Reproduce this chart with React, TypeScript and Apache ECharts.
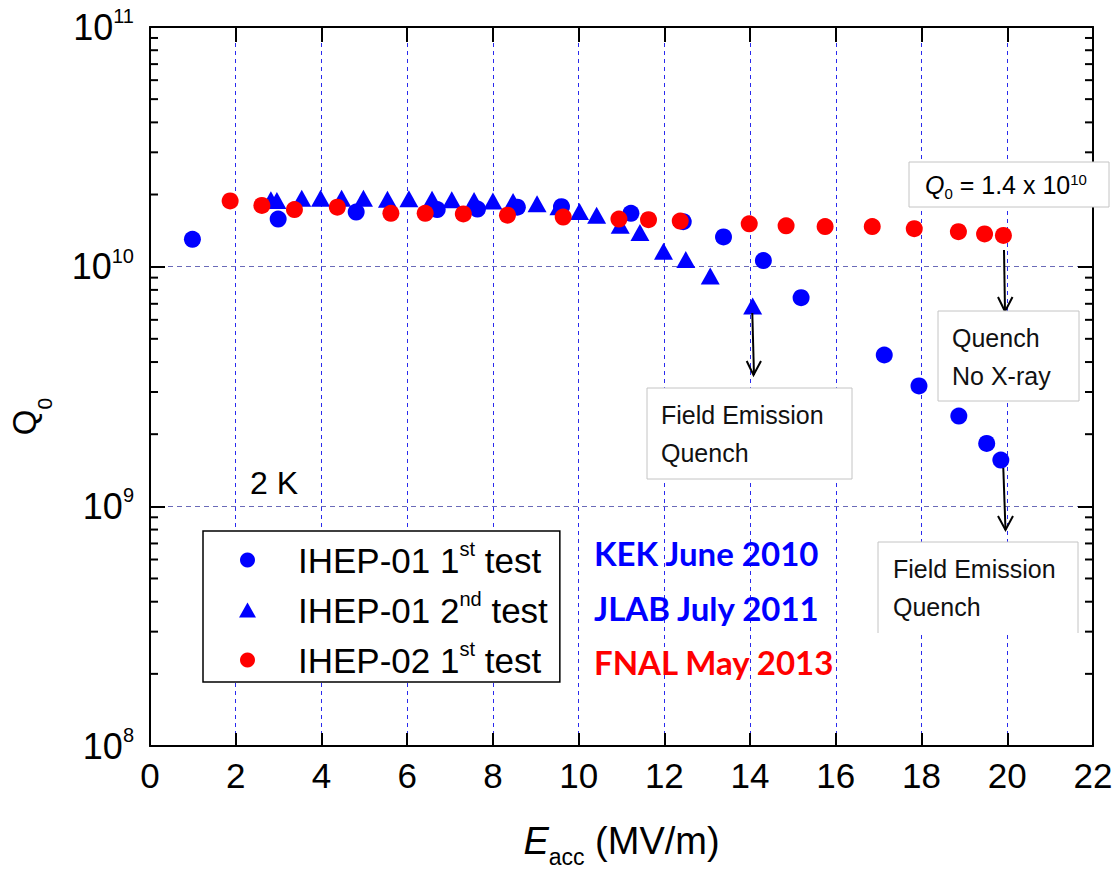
import React, { useEffect, useRef } from 'react';
import * as echarts from 'echarts';

const FONT = '"Liberation Sans", Arial, sans-serif';
const LAB_FONT = 'Lato, "Open Sans", sans-serif';

// IHEP-01 1st test (KEK June 2010)
const test1E = [0.99, 2.99, 4.81, 6.70, 7.64, 8.57, 9.60, 11.22, 12.44, 13.38, 14.31, 15.19, 17.13, 17.94, 18.87, 19.52, 19.85];
const test1Q = [1.30e10, 1.58e10, 1.69e10, 1.73e10, 1.74e10, 1.77e10, 1.78e10, 1.67e10, 1.54e10, 1.33e10, 1.06e10, 7.42e9, 4.28e9, 3.18e9, 2.38e9, 1.83e9, 1.56e9];

// IHEP-01 2nd test (JLAB July 2011)
const test2E = [2.82, 2.96, 3.54, 3.98, 4.47, 4.98, 5.54, 6.04, 6.58, 7.04, 7.56, 8.00, 8.47, 9.03, 9.54, 10.02, 10.42, 10.97, 11.43, 11.98, 12.50, 13.07, 14.06];
const test2Q = [1.90e10, 1.89e10, 1.93e10, 1.93e10, 1.93e10, 1.93e10, 1.91e10, 1.92e10, 1.91e10, 1.90e10, 1.89e10, 1.88e10, 1.87e10, 1.83e10, 1.78e10, 1.70e10, 1.64e10, 1.49e10, 1.39e10, 1.16e10, 1.07e10, 9.14e9, 6.86e9];

// IHEP-02 1st test (FNAL May 2013)
const test3E = [1.87, 2.61, 3.37, 4.37, 5.62, 6.42, 7.31, 8.34, 9.64, 10.94, 11.63, 12.37, 13.98, 14.84, 15.75, 16.85, 17.83, 18.86, 19.47, 19.91];
const test3Q = [1.88e10, 1.80e10, 1.73e10, 1.77e10, 1.67e10, 1.67e10, 1.66e10, 1.64e10, 1.61e10, 1.58e10, 1.57e10, 1.55e10, 1.51e10, 1.48e10, 1.47e10, 1.47e10, 1.44e10, 1.40e10, 1.37e10, 1.35e10];

const seriesNames = ['IHEP-01 1st test', 'IHEP-01 2nd test', 'IHEP-02 1st test'];
const legendRich: Record<string, string> = {
  'IHEP-01 1st test': '{g| }{m|IHEP-01 1}{s|st}{m| test}',
  'IHEP-01 2nd test': '{g| }{m|IHEP-01 2}{s|nd}{m| test}',
  'IHEP-02 1st test': '{g| }{m|IHEP-02 1}{s|st}{m| test}',
};

const X_MIN = 0;
const X_MAX = 22;
const X_INTERVAL = 2;
const Y_MIN = 1e8;
const Y_MAX = 1e11;

const minorTickValues: number[] = [];
for (let d = 8; d <= 10; d++) {
  for (let m = 2; m <= 9; m++) minorTickValues.push(m * Math.pow(10, d));
}

const zip = (xs: number[], ys: number[]) => xs.map((x, i) => [x, ys[i]]);

export default function App() {
  const ref = useRef<HTMLDivElement>(null);
  useEffect(() => {
    if (!ref.current) return;
    const chart = echarts.init(ref.current, null, { renderer: 'svg' });
    const axisLine = { show: true, onZero: false, lineStyle: { color: '#000', width: 2 } };
    const majorTick = (len: number) => ({ show: true, inside: true, length: len, lineStyle: { color: '#000', width: 2 } });

    const option: any = {
      animation: false,
      backgroundColor: '#fff',
      textStyle: { fontFamily: FONT },
      grid: { left: 150, top: 27, right: 22, bottom: 124, containLabel: false, outerBoundsMode: 'none' },
      legend: {
        orient: 'vertical',
        left: 203,
        top: 531,
        data: [
          { name: seriesNames[0], icon: 'circle' },
          { name: seriesNames[1], icon: 'triangle' },
          { name: seriesNames[2], icon: 'circle' },
        ],
        itemWidth: 17,
        itemHeight: 15,
        itemGap: 8,
        padding: [8, 12, 1, 36],
        borderColor: '#000',
        borderWidth: 1.5,
        backgroundColor: '#fff',
        selectedMode: false,
        formatter: (name: string) => legendRich[name],
        textStyle: {
          color: '#000',
          rich: {
            g: { width: 37, fontSize: 35 },
            m: { fontSize: 35, fontFamily: FONT, color: '#000', lineHeight: 40 },
            s: { fontSize: 20, fontFamily: FONT, color: '#000', lineHeight: 20, padding: [0, 0, 22, 0] },
          },
        },
        z: 10,
      },
      xAxis: [
        {
          type: 'value',
          position: 'bottom',
          min: X_MIN,
          max: X_MAX,
          interval: X_INTERVAL,
          axisLine,
          axisTick: majorTick(13),
          axisLabel: { fontSize: 35, color: '#000', margin: 12, fontFamily: FONT },
          splitLine: { show: true, lineStyle: { color: '#2a2aee', width: 1, type: [4, 4] } },
          name: '{e|E}{s|acc}{n| (MV/m)}',
          nameLocation: 'middle',
          nameGap: 67,
          nameTextStyle: {
            rich: {
              e: { fontSize: 38, fontStyle: 'italic', fontFamily: FONT, color: '#000' },
              s: { fontSize: 23, fontFamily: FONT, color: '#000', padding: [32, 0, 0, 0] },
              n: { fontSize: 38, fontFamily: FONT, color: '#000' },
            },
          },
        },
        {
          type: 'value',
          position: 'top',
          min: X_MIN,
          max: X_MAX,
          interval: X_INTERVAL,
          axisLine,
          axisTick: majorTick(15),
          axisLabel: { show: false },
          splitLine: { show: false },
        },
      ],
      yAxis: [
        {
          type: 'log',
          logBase: 10,
          position: 'left',
          min: Y_MIN,
          max: Y_MAX,
          axisLine,
          axisTick: majorTick(15),
          axisLabel: {
            margin: 16,
            formatter: (v: number) => `{b|10}{s|${Math.round(Math.log10(v))}}`,
            rich: {
              b: { fontSize: 36, fontFamily: FONT, color: '#000' },
              s: { fontSize: 20, fontFamily: FONT, color: '#000', padding: [0, 0, 22, 0] },
            },
          },
          splitLine: { show: true, lineStyle: { color: '#6a6ab8', width: 1, type: [5, 4] } },
          name: '{q|Q}{s|0}',
          nameLocation: 'middle',
          nameGap: 95,
          nameTextStyle: {
            padding: [0, 60, 0, 0],
            rich: {
              q: { fontSize: 33, fontFamily: FONT, color: '#000' },
              s: { fontSize: 21, fontFamily: FONT, color: '#000', padding: [40, 0, 0, 0] },
            },
          },
        },
        {
          type: 'log',
          logBase: 10,
          position: 'right',
          min: Y_MIN,
          max: Y_MAX,
          axisLine,
          axisTick: majorTick(15),
          axisLabel: { show: false },
          splitLine: { show: false },
        },
      ],
      series: [
        {
          name: 'minor ticks',
          type: 'custom',
          silent: true,
          xAxisIndex: 0,
          yAxisIndex: 0,
          data: minorTickValues.map((v) => [X_MIN, v]),
          renderItem: (_p: any, api: any) => {
            const v = api.value(1);
            const l = api.coord([X_MIN, v]);
            const r = api.coord([X_MAX, v]);
            return {
              type: 'group',
              children: [
                { type: 'line', shape: { x1: l[0], y1: l[1], x2: l[0] + 8, y2: l[1] }, style: { stroke: '#000', lineWidth: 2 } },
                { type: 'line', shape: { x1: r[0], y1: r[1], x2: r[0] - 8, y2: r[1] }, style: { stroke: '#000', lineWidth: 2 } },
              ],
            };
          },
          z: 3,
        },
        {
          name: seriesNames[0],
          type: 'scatter',
          symbol: 'circle',
          symbolSize: 17,
          itemStyle: { color: '#0000ff', opacity: 1 },
          data: zip(test1E, test1Q),
          z: 4,
        },
        {
          name: seriesNames[1],
          type: 'scatter',
          symbol: 'triangle',
          symbolSize: [19, 17],
          itemStyle: { color: '#0000ff', opacity: 1 },
          data: zip(test2E, test2Q),
          z: 4,
        },
        {
          name: seriesNames[2],
          type: 'scatter',
          symbol: 'circle',
          symbolSize: 17,
          itemStyle: { color: '#ff0000', opacity: 1 },
          data: zip(test3E, test3Q),
          z: 4,
        },
      ],
      graphic: [
        // Q0 = 1.4 x 10^10 box
        { type: 'rect', shape: { x: 909, y: 162, width: 200, height: 45 }, style: { fill: '#fff', stroke: '#c4c4c4', lineWidth: 1 }, z: 20 },
        {
          type: 'text', x: 925, y: 185, z: 21,
          style: {
            text: '{q|Q}{s|0}{n| = 1.4 x 10}{p|10}',
            verticalAlign: 'middle',
            rich: {
              q: { fontSize: 25, fontStyle: 'italic', fontFamily: FONT, fill: '#000' },
              s: { fontSize: 15, fontFamily: FONT, fill: '#000', padding: [16, 0, 0, 0] },
              n: { fontSize: 25, fontFamily: FONT, fill: '#000' },
              p: { fontSize: 15, fontFamily: FONT, fill: '#000', padding: [0, 0, 11, 0] },
            },
          },
        },
        // arrow to Quench No X-ray
        { type: 'line', shape: { x1: 1004, y1: 250, x2: 1005, y2: 311 }, style: { stroke: '#000', lineWidth: 2 }, z: 20 },
        { type: 'polyline', shape: { points: [[998, 297], [1005, 311.5], [1012.5, 297]] }, style: { stroke: '#000', lineWidth: 2, fill: null }, z: 20 },
        // Quench / No X-ray box
        { type: 'rect', shape: { x: 938, y: 311, width: 141, height: 90 }, style: { fill: '#fff', stroke: '#c4c4c4', lineWidth: 1 }, z: 20 },
        {
          type: 'text', x: 952, y: 357, z: 21,
          style: { text: 'Quench\nNo X-ray', fontSize: 25, fontFamily: FONT, fill: '#111', lineHeight: 38.5, verticalAlign: 'middle' },
        },
        // arrow to Field Emission Quench (1)
        { type: 'line', shape: { x1: 752.3, y1: 313, x2: 754, y2: 375 }, style: { stroke: '#000', lineWidth: 2 }, z: 20 },
        { type: 'polyline', shape: { points: [[746.7, 361], [753.5, 375], [761, 361]] }, style: { stroke: '#000', lineWidth: 2, fill: null }, z: 20 },
        { type: 'rect', shape: { x: 647, y: 388, width: 205, height: 91 }, style: { fill: '#fff', stroke: '#c4c4c4', lineWidth: 1 }, z: 20 },
        {
          type: 'text', x: 661, y: 434, z: 21,
          style: { text: 'Field Emission\nQuench', fontSize: 25, fontFamily: FONT, fill: '#111', lineHeight: 38, verticalAlign: 'middle' },
        },
        // arrow to Field Emission Quench (2)
        { type: 'line', shape: { x1: 1003.3, y1: 468, x2: 1005.5, y2: 530 }, style: { stroke: '#000', lineWidth: 2 }, z: 20 },
        { type: 'polyline', shape: { points: [[998, 516], [1005.5, 530], [1013, 516]] }, style: { stroke: '#000', lineWidth: 2, fill: null }, z: 20 },
        { type: 'rect', shape: { x: 878, y: 542, width: 200, height: 91 }, style: { fill: '#fff', stroke: null }, z: 20 },
        { type: 'polyline', shape: { points: [[878, 633], [878, 542], [1078, 542], [1078, 633]] }, style: { stroke: '#c4c4c4', lineWidth: 1, fill: null }, z: 20 },
        {
          type: 'text', x: 893, y: 588, z: 21,
          style: { text: 'Field Emission\nQuench', fontSize: 25, fontFamily: FONT, fill: '#111', lineHeight: 38, verticalAlign: 'middle' },
        },
        // 2 K
        { type: 'text', x: 250, y: 483, z: 21, style: { text: '2 K', fontSize: 32, fontFamily: FONT, fill: '#000', verticalAlign: 'middle' } },
        // lab labels
        { type: 'text', x: 594, y: 553, z: 21, style: { text: 'KEK June 2010', fontSize: 33, fontWeight: 'bold', fontFamily: LAB_FONT, fill: '#0000ff', verticalAlign: 'middle' } },
        { type: 'text', x: 594, y: 608, z: 21, style: { text: 'JLAB July 2011', fontSize: 33, fontWeight: 'bold', fontFamily: LAB_FONT, fill: '#0000ff', verticalAlign: 'middle' } },
        { type: 'text', x: 594, y: 662, z: 21, style: { text: 'FNAL May 2013', fontSize: 33, fontWeight: 'bold', fontFamily: LAB_FONT, fill: '#ff0000', verticalAlign: 'middle' } },
      ],
    };
    chart.setOption(option);
    return () => chart.dispose();
  }, []);
  return <div ref={ref} style={{ position: 'absolute', left: 0, top: 0, width: 1115, height: 870, background: '#fff' }} />;
}
